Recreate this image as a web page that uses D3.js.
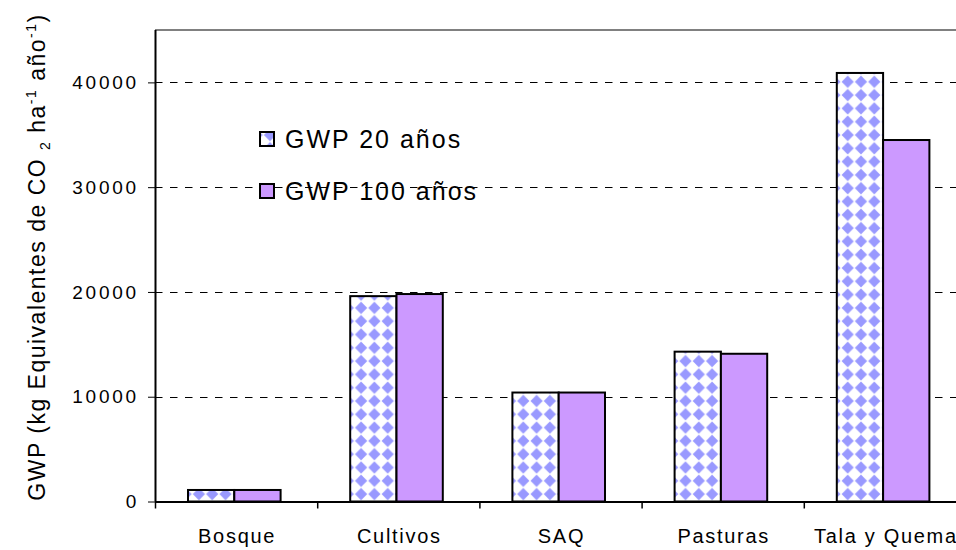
<!DOCTYPE html>
<html>
<head>
<meta charset="utf-8">
<script src="https://cdn.jsdelivr.net/npm/d3@7"></script>
<style>
  html, body { margin: 0; padding: 0; background: #fff; }
  svg { display: block; }
  text { font-family: "Liberation Sans", Arial, sans-serif; fill: #000; }
</style>
</head>
<body>
<svg id="chart" width="956" height="550"></svg>
<script>
const categories = ["Bosque", "Cultivos", "SAQ", "Pasturas", "Tala y Quema"];
const seriesNames = ["GWP 20 años", "GWP 100 años"];
const gwp20 = [1100, 19600, 10400, 14300, 40900];
const gwp100 = [1100, 19800, 10400, 14100, 34500];
const yTicks = [0, 10000, 20000, 30000, 40000];

(function () {
const svg = d3.select("#chart");
const mLeft = 155, mTop = 30, mBottom = 501.5, catW = 162.2;
const mRight = mLeft + catW * categories.length;

const P = 13.3, h = 6.1;
const defs = svg.append("defs");
const pat = defs.append("pattern").attr("id", "diam")
  .attr("patternUnits", "userSpaceOnUse").attr("width", P).attr("height", P)
  .attr("x", 4).attr("y", 2);
pat.append("rect").attr("width", P).attr("height", P).attr("fill", "#fff");
[[0, 0], [P, 0], [0, P], [P, P]].forEach(([cx, cy]) => {
  pat.append("polygon")
    .attr("points", `${cx},${cy - h} ${cx + h},${cy} ${cx},${cy + h} ${cx - h},${cy}`)
    .attr("fill", "#9999ff");
});

const x0 = d3.scaleBand().domain(categories).range([mLeft, mRight]).paddingInner(0).paddingOuter(0);
const x1 = d3.scaleBand().domain(seriesNames).range([33, 33 + 92.6]);
const xb = d3.scaleLinear().domain([0, categories.length]).range([mLeft, mRight]);
const y = d3.scaleLinear().domain([0, 45000]).range([mBottom, mTop]);

svg.append("line").attr("x1", mLeft).attr("x2", 956).attr("y1", mTop).attr("y2", mTop)
  .attr("stroke", "#808080").attr("stroke-width", 2);

svg.append("g").selectAll("line").data(yTicks.filter(d => d > 0)).join("line")
  .attr("x1", mLeft).attr("x2", 956)
  .attr("y1", d => Math.round(y(d)) + 0.5).attr("y2", d => Math.round(y(d)) + 0.5)
  .attr("stroke", "#000").attr("stroke-width", 1).attr("stroke-dasharray", "7.5,7.5");

const fills = ["url(#diam)", "#cc99ff"];
const data = categories.map((c, i) => ({ c, vals: [gwp20[i], gwp100[i]] }));
const groups = svg.append("g").selectAll("g").data(data).join("g")
  .attr("transform", d => `translate(${x0(d.c)},0)`);
groups.selectAll("rect").data(d => d.vals.map((v, j) => ({ v, s: seriesNames[j], j }))).join("rect")
  .attr("x", d => x1(d.s)).attr("width", x1.bandwidth())
  .attr("y", d => y(d.v)).attr("height", d => y(0) - y(d.v))
  .attr("fill", d => fills[d.j]).attr("stroke", "#000").attr("stroke-width", 2);

const yAxis = svg.append("g").attr("transform", `translate(${mLeft},0)`)
  .call(d3.axisLeft(y).tickValues(yTicks).tickSize(7).tickPadding(9).tickFormat(d3.format("d")));
yAxis.select(".domain").attr("d", `M0.5,${mTop}V${mBottom}`).attr("stroke", "#000").attr("stroke-width", 2);
yAxis.selectAll(".tick line").attr("stroke", "#000");
yAxis.selectAll(".tick text").attr("font-size", 19).attr("letter-spacing", 2.8)
  .attr("font-family", "Liberation Sans, Arial, sans-serif").attr("fill", "#000");

const xAxis = svg.append("g").attr("transform", `translate(0,${mBottom})`)
  .call(d3.axisBottom(xb).tickValues(d3.range(categories.length + 1)).tickSize(7).tickFormat(""));
xAxis.select(".domain").attr("d", `M${mLeft},0.5H956`).attr("stroke", "#000").attr("stroke-width", 2);
xAxis.selectAll(".tick line").attr("stroke", "#000").attr("stroke-width", 1.5);

svg.append("g").selectAll("text").data(categories).join("text")
  .attr("x", d => x0(d) + x0.bandwidth() / 2 + 1)
  .attr("y", 543)
  .attr("text-anchor", "middle")
  .attr("font-size", 20).attr("letter-spacing", 1.7)
  .text(d => d);

const yt = svg.append("text").attr("transform", "translate(45,257) rotate(-90)")
  .attr("text-anchor", "middle").attr("font-size", 23).attr("letter-spacing", 1.5);
yt.append("tspan").text("GWP (kg Equivalentes de CO ");
yt.append("tspan").attr("font-size", 14).attr("dy", 5).text("2");
yt.append("tspan").attr("dy", -5).text(" ha");
yt.append("tspan").attr("font-size", 14).attr("dy", -9).text("-1");
yt.append("tspan").attr("dy", 9).text(" año");
yt.append("tspan").attr("font-size", 14).attr("dy", -9).text("-1");
yt.append("tspan").attr("dy", 9).text(")");

const legY = [139, 191];
const leg = svg.append("g");
seriesNames.forEach((s, i) => {
  leg.append("rect").attr("x", 260).attr("y", legY[i] - 7).attr("width", 14).attr("height", 14)
    .attr("fill", fills[i]).attr("stroke", "#000").attr("stroke-width", 2);
  leg.append("text").attr("x", 285).attr("y", legY[i] + 8.5)
    .attr("font-size", 25).attr("letter-spacing", 2).text(s);
});
})();
</script>
</body>
</html>
